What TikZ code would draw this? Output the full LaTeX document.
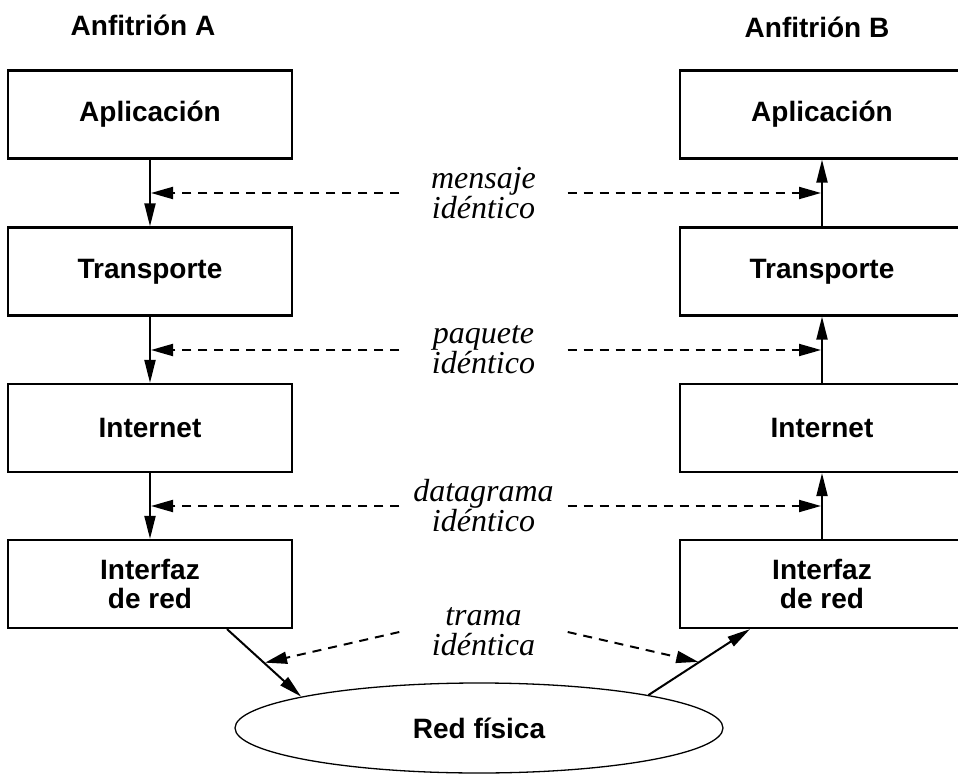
\documentclass[tikz,border=0pt]{standalone}
\usepackage{fontspec}
\setmainfont{Liberation Sans}
\newfontfamily\lblfont{Liberation Serif}
\usetikzlibrary{arrows.meta,calc,shapes.geometric}
\begin{document}
\begin{tikzpicture}[x=1pt,y=-1pt,
  layer/.style={draw, line width=2.2pt, minimum width=284pt, minimum height=88pt,
    inner sep=0pt, align=center, font=\fontsize{28}{29}\selectfont\bfseries},
  host/.style={font=\fontsize{28}{32}\selectfont\bfseries},
  tag/.style={minimum width=168pt, inner sep=0pt, align=center,
    font=\fontsize{32}{30}\selectfont\lblfont\itshape},
  net/.style={draw, ellipse, line width=1.3pt, minimum width=488pt, minimum height=90pt,
    inner sep=0pt, font=\fontsize{28}{32}\selectfont\bfseries},
  flow/.style={line width=2pt, -{Triangle[length=23pt,width=11pt]}},
  peer/.style={line width=2pt, dash pattern=on 9pt off 7pt, shorten >=1pt,
    -{Triangle[length=22pt,width=12pt]}},
]
\useasboundingbox (0,0) rectangle (958,775);
\clip (0,0) rectangle (958,775);

% host titles
\node[host] (hA) at (143,25) {Anfitrión A};
\node[host] (hB) at (817,27) {Anfitrión B};

% protocol stack of host A
\node[layer] (a1) at (150,114.5) {Aplicación};
\node[layer] (a2) at (150,271.5) {Transporte};
\node[layer] (a3) at (150,428) {Internet};
\node[layer] (a4) at (150,584) {Interfaz\\de red};

% protocol stack of host B
\node[layer] (b1) at (822,114.5) {Aplicación};
\node[layer] (b2) at (822,271.5) {Transporte};
\node[layer] (b3) at (822,428) {Internet};
\node[layer] (b4) at (822,584) {Interfaz\\de red};

% physical network
\node[net] (red) at (479,728) {Red física};

% peer labels
\node[tag] (tM) at (483.5,193) {mensaje\\idéntico};
\node[tag] (tP) at (483.5,350) {paquete\\idéntico};
\node[tag] (tD) at (483.5,506) {datagrama\\idéntico};
\node[tag] (tT) at (483.5,632) {trama\\idéntica};

% downward flow in A
\draw[flow] (a1.south) -- (a2.north);
\draw[flow] (a2.south) -- (a3.north);
\draw[flow] (a3.south) -- (a4.north);

% upward flow in B
\draw[flow] (b2.north) -- (b1.south);
\draw[flow] (b3.north) -- (b2.south);
\draw[flow] (b4.north) -- (b3.south);

% to and from the physical network
\coordinate (pA) at ([xshift=77pt]a4.south);
\coordinate (pB) at ([xshift=-72pt]b4.south);
\draw[flow] (pA) -- (red.170);
\draw[flow] (red.11) -- (pB);

% peer-to-peer correspondences
\draw[peer] (tM.west) -- (tM.west -| a1.south);
\draw[peer] (tM.east) -- (tM.east -| b1.south);
\draw[peer] (tP.west) -- (tP.west -| a2.south);
\draw[peer] (tP.east) -- (tP.east -| b2.south);
\draw[peer] (tD.west) -- (tD.west -| a3.south);
\draw[peer] (tD.east) -- (tD.east -| b3.south);
\draw[peer] (tT.west) -- ($(pA)!0.5!(red.170)$);
\draw[peer] (tT.east) -- ($(red.11)!0.5!(pB)$);
\end{tikzpicture}
\end{document}
